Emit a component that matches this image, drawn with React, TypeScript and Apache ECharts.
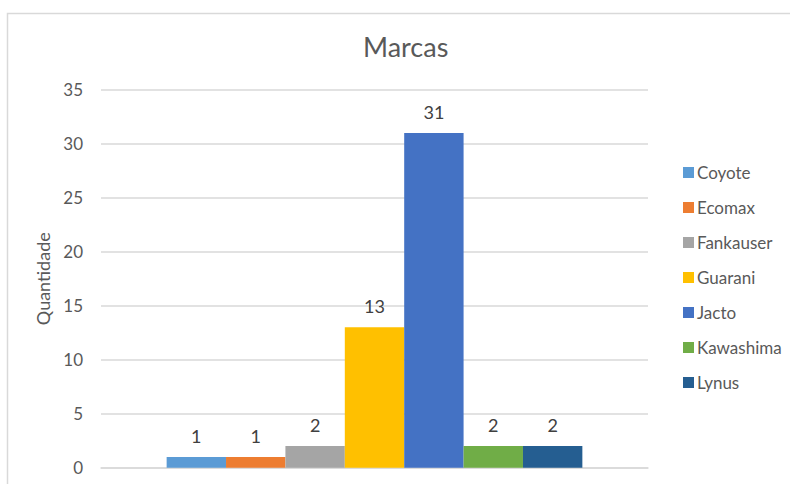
import React, { useEffect, useRef } from "react";
import * as echarts from "echarts";

const categories = ["Marcas"];
const seriesNames = ["Coyote", "Ecomax", "Fankauser", "Guarani", "Jacto", "Kawashima", "Lynus"];
const seriesValues = [1, 1, 2, 13, 31, 2, 2];
const seriesColors = ["#5B9BD5", "#ED7D31", "#A5A5A5", "#FFC000", "#4472C4", "#70AD47", "#255E91"];

const FONT = "Lato, 'Noto Sans', sans-serif";

export default function App() {
  const ref = useRef<HTMLDivElement>(null);
  useEffect(() => {
    const chart = echarts.init(ref.current!, null, { renderer: "svg" });
    chart.setOption({
      animation: false,
      backgroundColor: "#ffffff",
      textStyle: { fontFamily: FONT },
      title: {
        text: "Marcas",
        left: 358,
        top: 28,
        textStyle: { fontSize: 27, fontWeight: "normal", color: "#595959", fontFamily: FONT },
      },
      graphic: [
        {
          type: "rect",
          shape: { x: 7.5, y: 13.5, width: 800, height: 500 },
          style: { fill: "none", stroke: "#d9d9d9", lineWidth: 1.5 },
          silent: true,
        },
      ],
      legend: {
        orient: "vertical",
        left: 678,
        top: 159,
        itemWidth: 11,
        itemHeight: 11,
        itemGap: 18,
        icon: "rect",
        textStyle: { fontSize: 17, color: "#595959", fontFamily: FONT, padding: [0, 0, 0, -2] },
        data: seriesNames,
      },
      grid: { left: 101, right: 142, top: 89.7, bottom: 16.3, containLabel: false },
      xAxis: {
        type: "category",
        data: categories,
        axisLine: { show: true, lineStyle: { color: "#d9d9d9", width: 1.5 } },
        axisTick: { show: false },
        axisLabel: { show: false },
      },
      yAxis: {
        type: "value",
        min: 0,
        max: 35,
        interval: 5,
        name: "Quantidade",
        nameLocation: "middle",
        nameGap: 47,
        nameTextStyle: { fontSize: 18, color: "#595959", fontFamily: FONT },
        axisLine: { show: false },
        axisTick: { show: false },
        axisLabel: { fontSize: 17, color: "#595959", margin: 18, fontFamily: FONT },
        splitLine: { lineStyle: { color: "#d9d9d9", width: 1.5 } },
      },
      series: seriesNames.map((name, i) => ({
        name,
        type: "bar",
        data: [seriesValues[i]],
        barGap: "0%",
        barCategoryGap: "24%",
        itemStyle: { color: seriesColors[i] },
        label: {
          show: true,
          position: "top",
          distance: 12,
          fontSize: 18,
          color: "#404040",
          fontFamily: FONT,
        },
      })),
    });
    return () => chart.dispose();
  }, []);
  return (
    <div
      ref={ref}
      style={{ position: "absolute", left: 0, top: 0, width: 790, height: 484 }}
    />
  );
}
